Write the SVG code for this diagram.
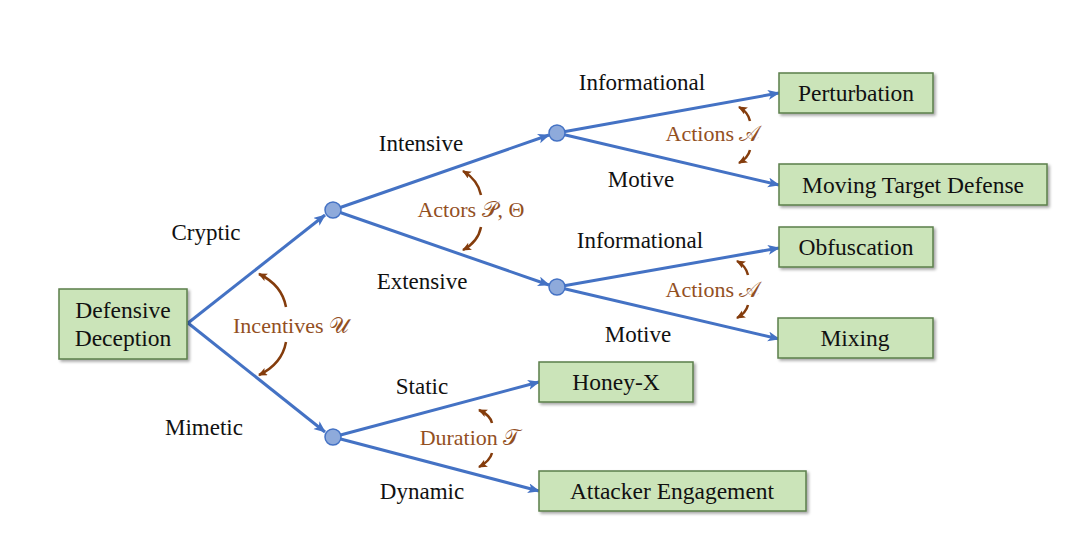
<svg xmlns="http://www.w3.org/2000/svg" width="1080" height="536" viewBox="0 0 1080 536">
<defs>
<marker id="ab" markerUnits="userSpaceOnUse" markerWidth="14" markerHeight="12" refX="11" refY="5" orient="auto">
<path d="M0,0 L12,5 L0,10 L3,5 Z" fill="#4472c4"/>
</marker>
<marker id="ar" markerUnits="userSpaceOnUse" markerWidth="12" markerHeight="10" refX="8" refY="4" orient="auto">
<path d="M0,0 L9,4 L0,8 L2,4 Z" fill="#843c0c"/>
</marker>
<filter id="sh" x="-10%" y="-10%" width="130%" height="140%">
<feDropShadow dx="2" dy="2" stdDeviation="1.5" flood-color="#000" flood-opacity="0.35"/>
</filter>
</defs>
<style>
.box{fill:#cbe4b9;stroke:#5b7f4b;stroke-width:1.5;filter:url(#sh)}
.nt{font-family:"Liberation Serif",serif;font-size:23.5px;fill:#111;text-anchor:middle}
.lb{font-family:"Liberation Serif",serif;font-size:23px;fill:#111;text-anchor:middle}
.br{font-family:"Liberation Serif",serif;font-size:22px;fill:#93501f;text-anchor:middle}
.edge{stroke:#4472c4;stroke-width:3;fill:none;marker-end:url(#ab)}
.arc{stroke:#843c0c;stroke-width:2.5;fill:none;marker-end:url(#ar)}
.dot{fill:#8eaadb;stroke:#4472c4;stroke-width:1.5}
</style>
<rect width="1080" height="536" fill="#ffffff"/>
<g id="connectors">
<line class="edge" x1="188" y1="323" x2="325" y2="215"/>
<line class="edge" x1="188" y1="323" x2="325" y2="432"/>
<line class="edge" x1="333" y1="210" x2="549" y2="135"/>
<line class="edge" x1="333" y1="210" x2="549" y2="285"/>
<line class="edge" x1="557" y1="133" x2="779" y2="93"/>
<line class="edge" x1="557" y1="133" x2="779" y2="185"/>
<line class="edge" x1="557" y1="287" x2="779" y2="248"/>
<line class="edge" x1="557" y1="287" x2="779" y2="339"/>
<line class="edge" x1="333" y1="437" x2="539" y2="382"/>
<line class="edge" x1="333" y1="437" x2="539" y2="491"/>
</g>
<g id="angle-arcs">
<path class="arc" d="M286,307 Q282,285 259,274"/>
<path class="arc" d="M286,342 Q282,364 259,375"/>
<path class="arc" d="M481,195 Q478,180 463,171"/>
<path class="arc" d="M481,227 Q478,242 463,250"/>
<path class="arc" d="M750,121 Q748,112 739,107"/>
<path class="arc" d="M750,150 Q748,158 739,163"/>
<path class="arc" d="M748,275 Q746,266 737,261"/>
<path class="arc" d="M748,305 Q746,313 737,318"/>
<path class="arc" d="M492,423 Q490,415 479,410"/>
<path class="arc" d="M492,453 Q490,461 479,467"/>
</g>
<g id="branch-nodes">
<circle id="n-cryptic" class="dot" cx="333" cy="210" r="8"/>
<circle id="n-mimetic" class="dot" cx="333" cy="437" r="8"/>
<circle id="n-intensive" class="dot" cx="557" cy="133" r="8"/>
<circle id="n-extensive" class="dot" cx="557" cy="287" r="8"/>
</g>
<g id="root">
<rect class="box" x="59" y="289" width="128" height="70"/>
<text class="nt" x="123" y="318">Defensive</text>
<text class="nt" x="123" y="346">Deception</text>
</g>
<g id="perturbation">
<rect class="box" x="779" y="73" width="154" height="40"/>
<text class="nt" x="856" y="101">Perturbation</text>
</g>
<g id="mtd">
<rect class="box" x="779" y="164" width="268" height="41"/>
<text class="nt" x="913" y="193">Moving Target Defense</text>
</g>
<g id="obfuscation">
<rect class="box" x="779" y="227" width="154" height="40"/>
<text class="nt" x="856" y="255">Obfuscation</text>
</g>
<g id="mixing">
<rect class="box" x="778" y="318" width="155" height="40"/>
<text class="nt" x="855" y="346">Mixing</text>
</g>
<g id="honeyx">
<rect class="box" x="539" y="362" width="154" height="40"/>
<text class="nt" x="616" y="390">Honey-X</text>
</g>
<g id="attacker">
<rect class="box" x="539" y="471" width="267" height="40"/>
<text class="nt" x="672" y="499">Attacker Engagement</text>
</g>
<g id="labels">
<text class="lb" x="206" y="240">Cryptic</text>
<text class="lb" x="204" y="435">Mimetic</text>
<text class="lb" x="421" y="151">Intensive</text>
<text class="lb" x="422" y="289">Extensive</text>
<text class="lb" x="642" y="90">Informational</text>
<text class="lb" x="641" y="187">Motive</text>
<text class="lb" x="640" y="248">Informational</text>
<text class="lb" x="638" y="342">Motive</text>
<text class="lb" x="422" y="394">Static</text>
<text class="lb" x="422" y="499">Dynamic</text>
</g>
<g id="dimension-labels">
<text class="br" x="291" y="333">Incentives 𝒰</text>
<text class="br" x="471" y="217">Actors 𝒫, Θ</text>
<text class="br" x="713" y="141">Actions 𝒜</text>
<text class="br" x="713" y="297">Actions 𝒜</text>
<text class="br" x="470" y="445">Duration 𝒯</text>
</g>
</svg>
